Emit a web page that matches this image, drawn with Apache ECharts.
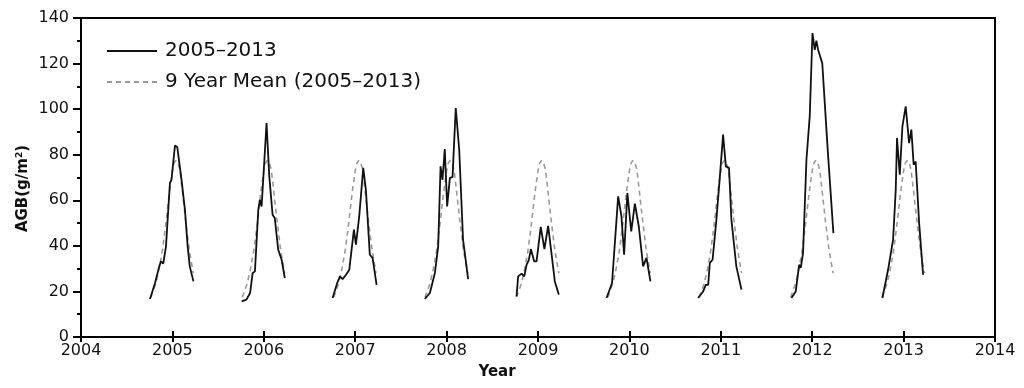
<!DOCTYPE html>
<html>
<head>
<meta charset="utf-8">
<script src="https://cdn.jsdelivr.net/npm/echarts@6/dist/echarts.min.js"></script>
<style>
html,body{margin:0;padding:0;background:#fff;}
#c{width:1024px;height:388px;}
</style>
</head>
<body>
<div id="c"></div>
<script>
// ---- Data (x = decimal year, y = AGB g/m2) ----
const years = [2005, 2006, 2007, 2008, 2009, 2010, 2011, 2012, 2013];
const xTicks = [2004, 2005, 2006, 2007, 2008, 2009, 2010, 2011, 2012, 2013, 2014];

const agb2005 = [[2004.755,16.7],[2004.81,23.7],[2004.825,24.4],[2004.856,31],[2004.875,33.2],[2004.9,32.2],[2004.93,39.8],[2004.973,67.6],[2004.99,69],[2005.028,84],[2005.053,83.4],[2005.1,69],[2005.137,55.9],[2005.167,39.8],[2005.19,31],[2005.23,24.4]];
const agb2006 = [[2005.758,15.6],[2005.81,16.4],[2005.85,19.3],[2005.878,28.1],[2005.903,28.8],[2005.94,55.9],[2005.957,60.2],[2005.976,57.3],[2006.0,73.4],[2006.03,93.9],[2006.06,70.5],[2006.096,53.7],[2006.12,52.2],[2006.158,38.3],[2006.195,33.9],[2006.23,25.9]];
const agb2007 = [[2006.753,17.1],[2006.803,23.7],[2006.833,26.6],[2006.862,25.4],[2006.9,27.3],[2006.935,29.5],[2006.986,47.1],[2007.008,40.5],[2007.044,52.9],[2007.088,74.2],[2007.117,64.6],[2007.16,36.1],[2007.19,34.7],[2007.234,22.9]];
const agb2008 = [[2007.762,16.7],[2007.817,19.3],[2007.872,28.1],[2007.908,39.8],[2007.934,74.9],[2007.955,69],[2007.98,82.5],[2008.006,57.3],[2008.036,69.8],[2008.065,70.2],[2008.1,100.5],[2008.138,82.2],[2008.18,42.7],[2008.236,25.4]];
const agb2009 = [[2008.765,17.8],[2008.783,26.6],[2008.82,27.8],[2008.85,26.6],[2008.875,31.7],[2008.9,33.9],[2008.922,38.6],[2008.958,33.2],[2008.984,33.2],[2009.03,48.3],[2009.07,38.6],[2009.111,48.8],[2009.147,36.9],[2009.184,24.4],[2009.228,18.6]];
const agb2010 = [[2009.75,17.1],[2009.81,23.7],[2009.877,61.7],[2009.913,52.9],[2009.942,36.1],[2009.978,63.2],[2010.02,46.3],[2010.06,58.5],[2010.103,48.5],[2010.15,31],[2010.187,34.7],[2010.23,24.4]];
const agb2011 = [[2010.752,17.1],[2010.807,20],[2010.836,22.9],[2010.862,22.9],[2010.88,32.5],[2010.91,33.9],[2010.952,51.5],[2010.99,70.5],[2011.025,88.8],[2011.055,74.9],[2011.09,74.2],[2011.116,51.5],[2011.17,31],[2011.226,20.8]];
const agb2012 = [[2011.773,17.1],[2011.82,20],[2011.857,31.7],[2011.875,30.3],[2011.9,36.9],[2011.937,77.8],[2011.973,96.8],[2012.003,133.4],[2012.028,126],[2012.046,130.1],[2012.065,126],[2012.11,120.2],[2012.17,82],[2012.232,45.6]];
const agb2013 = [[2012.768,17.1],[2012.83,29.5],[2012.885,42.7],[2012.914,64.6],[2012.928,87.3],[2012.958,71.2],[2012.987,92.4],[2013.023,101.2],[2013.06,85.1],[2013.085,91],[2013.11,75.6],[2013.132,77],[2013.17,50],[2013.213,27.3]];

// 9-year mean seasonal profile: offset from the year tick, value
const meanOffsets = [-0.235, -0.18, -0.145, -0.108, -0.071, -0.034, 0.002, 0.02, 0.039, 0.06, 0.082, 0.111, 0.148, 0.184, 0.228];
const meanValues  = [17.5, 23.7, 30, 38.3, 50, 63.2, 73.4, 76.5, 77.5, 76.5, 73.4, 63.2, 50, 38.3, 28];

// ---- Build series data ----
const seasons = [agb2005, agb2006, agb2007, agb2008, agb2009, agb2010, agb2011, agb2012, agb2013];
const obsData = [];
seasons.forEach(s => { s.forEach(p => obsData.push(p)); obsData.push([s[s.length-1][0] + 0.01, '-']); });
const meanData = [];
years.forEach(y => {
  meanOffsets.forEach((o, i) => meanData.push([y + o, meanValues[i]]));
  meanData.push([y + 0.3, '-']);
});

const FONT = 'DejaVu Sans';
const solidIcon = 'path://M0,0h50v1.8h-50z';
const dashIcon = 'path://M0,0h5v1.8h-5z M9,0h5v1.8h-5z M18,0h5v1.8h-5z M27,0h5v1.8h-5z M36,0h5v1.8h-5z M45,0h5v1.8h-5z';

const chart = echarts.init(document.getElementById('c'), null, {renderer: 'canvas'});
chart.setOption({
  animation: false,
  backgroundColor: '#fff',
  grid: {left: 81, right: 29, top: 18, bottom: 51, show: true, borderColor: '#000', borderWidth: 2, backgroundColor: 'transparent'},
  legend: {
    orient: 'vertical', left: 107, top: 40, padding: 0, itemGap: 9,
    itemWidth: 50, itemHeight: 1.8,
    data: [{name: '2005–2013', icon: solidIcon}, {name: '9 Year Mean (2005–2013)', icon: dashIcon}],
    textStyle: {fontFamily: FONT, fontSize: 20, color: '#111', lineHeight: 22, padding: [0,0,0,3]}
  },
  xAxis: [{
    type: 'value', min: xTicks[0], max: xTicks[xTicks.length-1], interval: 1,
    name: 'Year', nameLocation: 'middle', nameGap: 28, nameMoveOverlap: false,
    nameTextStyle: {fontFamily: FONT, fontSize: 15, fontWeight: 'bold', color: '#111', padding: [0, 82, 0, 0]},
    axisLine: {show: true, onZero: false, lineStyle: {color: '#000', width: 2}},
    axisTick: {show: true, inside: false, length: 5, lineStyle: {color: '#000', width: 2}},
    axisLabel: {fontFamily: FONT, fontSize: 16, color: '#111', margin: 6, formatter: v => String(Math.round(v))},
    splitLine: {show: false}
  }, {
    type: 'value', min: xTicks[0], max: xTicks[xTicks.length-1], interval: 1, position: 'bottom',
    axisLine: {show: false, onZero: false},
    axisTick: {show: true, inside: true, length: 6, lineStyle: {color: '#000', width: 2}},
    axisLabel: {show: false}, splitLine: {show: false}
  }],
  yAxis: {
    type: 'value', min: 0, max: 140, interval: 20,
    name: '{a|AGB(g/m}{s|2}{a|)}', nameLocation: 'middle', nameGap: 49, nameRotate: 90, nameMoveOverlap: false,
    nameTextStyle: {padding: [0, 22, 0, 0], rich: {
      a: {fontFamily: FONT, fontSize: 15, fontWeight: 'bold', color: '#111'},
      s: {fontFamily: FONT, fontSize: 9, fontWeight: 'bold', color: '#111', verticalAlign: 'top', padding: [0,0,8,0]}
    }},
    axisLine: {show: true, lineStyle: {color: '#000', width: 2}},
    axisTick: {show: true, inside: false, length: 8, lineStyle: {color: '#000', width: 2}},
    minorTick: {show: true, splitNumber: 2, length: 4, lineStyle: {color: '#000', width: 2}},
    axisLabel: {fontFamily: FONT, fontSize: 16, color: '#111', margin: 12},
    splitLine: {show: false}
  },
  series: [{
    name: '9 Year Mean (2005–2013)', type: 'line', data: meanData, symbol: 'none',
    connectNulls: false,
    lineStyle: {color: '#9a9a9a', width: 1.6, type: [5, 4]}, itemStyle: {color: '#9a9a9a'}
  }, {
    name: '2005–2013', type: 'line', data: obsData, symbol: 'none',
    connectNulls: false,
    lineStyle: {color: '#111', width: 1.8}, itemStyle: {color: '#111'}
  }]
});
</script>
</body>
</html>
